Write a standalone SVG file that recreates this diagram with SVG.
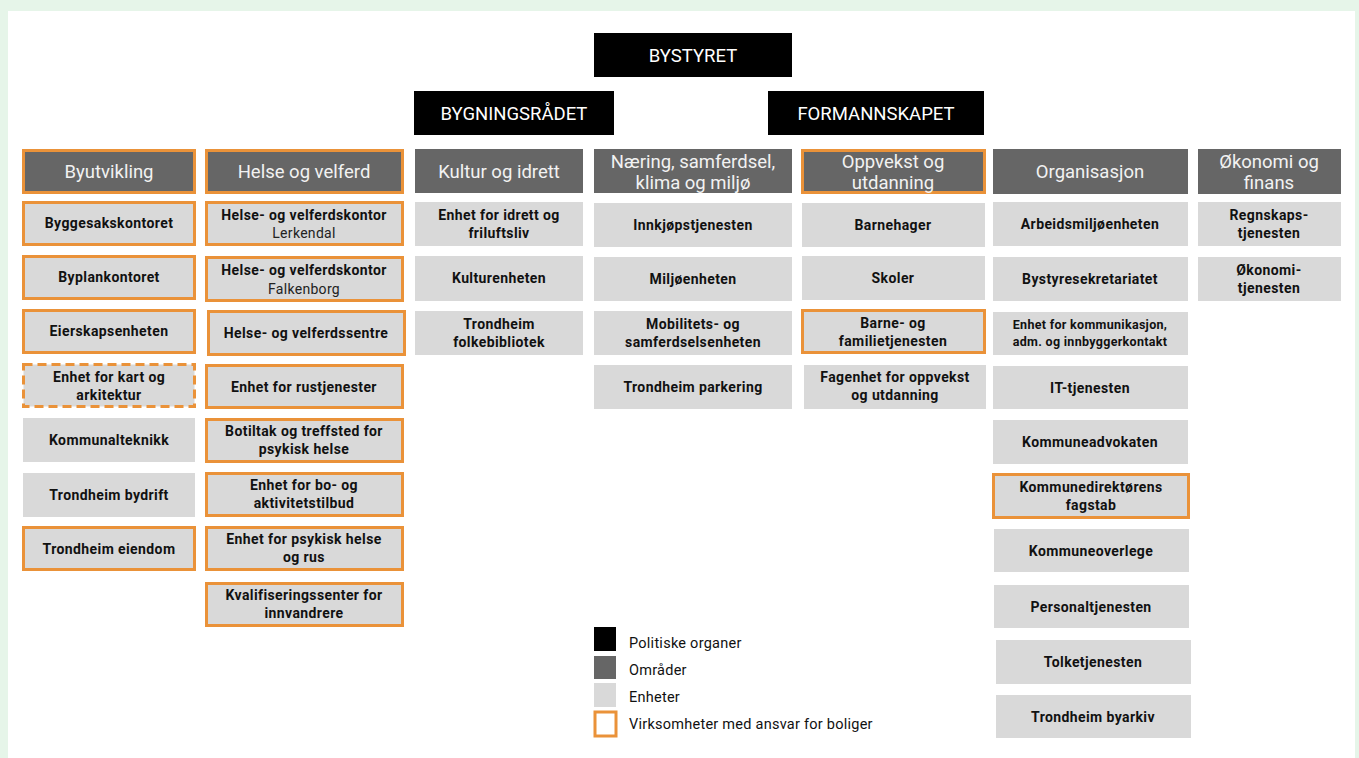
<svg xmlns="http://www.w3.org/2000/svg" width="1359" height="758" viewBox="0 0 1359 758">
<style>
.pol{fill:#000}
.omr{fill:#666666}
.enh{fill:#d9d9d9}
.bo{stroke:#ea9239;stroke-width:3}
.dash{stroke:#ea9239;stroke-width:3;stroke-dasharray:9 5}
text{font-family:Roboto,"Liberation Sans",sans-serif;text-anchor:middle}
.tp{fill:#ffffff;font-size:18.5px}
.th{fill:#f2f2f2;font-size:18.5px}
.tu{fill:#111;font-size:14px;font-weight:700;letter-spacing:0.4px}
.tr{fill:#222;font-size:14px;font-weight:400;letter-spacing:0.3px}
.ts{fill:#111;font-size:12.5px;font-weight:700;letter-spacing:0.3px}
.tl{fill:#111;font-size:14.5px;text-anchor:start;letter-spacing:0.25px}
</style>
<rect x="0" y="0" width="1359" height="758" fill="#e6f5e9"/>
<rect x="8" y="11" width="1347" height="747" fill="#ffffff"/>
<g id="connectors"></g>

<g id="bystyret"><rect class="pol" x="594" y="33" width="198" height="44"/><text class="tp" x="693" y="61.5">BYSTYRET</text></g>
<g id="bygningsradet"><rect class="pol" x="414" y="91" width="200" height="44"/><text class="tp" x="514" y="119.5">BYGNINGSRÅDET</text></g>
<g id="formannskapet"><rect class="pol" x="768" y="91" width="216" height="44"/><text class="tp" x="876" y="119.5">FORMANNSKAPET</text></g>

<g id="byutvikling"><rect class="omr bo" x="23.5" y="150.5" width="171" height="42"/><text class="th" x="109" y="178">Byutvikling</text></g>
<g id="helse"><rect class="omr bo" x="206.5" y="150.5" width="196" height="42"/><text class="th" x="304" y="178">Helse og velferd</text></g>
<g id="kultur"><rect class="omr" x="415" y="149" width="168" height="44"/><text class="th" x="499" y="178">Kultur og idrett</text></g>
<g id="naering"><rect class="omr" x="594" y="149" width="198" height="44"/><text class="th" x="693" y="168">Næring, samferdsel,</text><text class="th" x="693" y="189">klima og miljø</text></g>
<g id="oppvekst"><rect class="omr bo" x="802.5" y="150.5" width="182" height="42"/><text class="th" x="893" y="168">Oppvekst og</text><text class="th" x="893" y="189">utdanning</text></g>
<g id="organisasjon"><rect class="omr" x="993" y="149" width="195" height="45"/><text class="th" x="1090" y="178">Organisasjon</text></g>
<g id="okonomi"><rect class="omr" x="1198" y="149" width="143" height="45"/><text class="th" x="1269" y="168">Økonomi og</text><text class="th" x="1269" y="189">finans</text></g>

<g id="byggesak"><rect class="enh bo" x="23.5" y="202.5" width="171" height="42"/><text class="tu" x="109" y="228">Byggesakskontoret</text></g>
<g id="byplan"><rect class="enh bo" x="23.5" y="256.5" width="171" height="42"/><text class="tu" x="109" y="282">Byplankontoret</text></g>
<g id="eierskap"><rect class="enh bo" x="23.5" y="310.5" width="171" height="42"/><text class="tu" x="109" y="336">Eierskapsenheten</text></g>
<g id="kart"><rect class="enh dash" x="23.5" y="364.5" width="171" height="42"/><text class="tu" x="109" y="382">Enhet for kart og</text><text class="tu" x="109" y="400">arkitektur</text></g>
<g id="kommunalteknikk"><rect class="enh" x="23" y="418" width="172" height="44"/><text class="tu" x="109" y="445">Kommunalteknikk</text></g>
<g id="bydrift"><rect class="enh" x="23" y="473" width="172" height="44"/><text class="tu" x="109" y="500">Trondheim bydrift</text></g>
<g id="eiendom"><rect class="enh bo" x="23.5" y="527.5" width="171" height="42"/><text class="tu" x="109" y="554">Trondheim eiendom</text></g>

<g id="lerkendal"><rect class="enh bo" x="206.5" y="202.5" width="196" height="42"/><text class="tu" x="304" y="220">Helse- og velferdskontor</text><text class="tr" x="304" y="238">Lerkendal</text></g>
<g id="falkenborg"><rect class="enh bo" x="206.5" y="257.5" width="196" height="43"/><text class="tu" x="304" y="275">Helse- og velferdskontor</text><text class="tr" x="304" y="294">Falkenborg</text></g>
<g id="velferdssentre"><rect class="enh bo" x="208.5" y="311.5" width="196" height="43"/><text class="tu" x="306" y="338">Helse- og velferdssentre</text></g>
<g id="rus"><rect class="enh bo" x="206.5" y="365.5" width="196" height="42"/><text class="tu" x="304" y="392">Enhet for rustjenester</text></g>
<g id="botiltak"><rect class="enh bo" x="206.5" y="419.5" width="196" height="42"/><text class="tu" x="304" y="436">Botiltak og treffsted for</text><text class="tu" x="304" y="454">psykisk helse</text></g>
<g id="boaktivitet"><rect class="enh bo" x="206.5" y="473.5" width="196" height="42"/><text class="tu" x="304" y="490">Enhet for bo- og</text><text class="tu" x="304" y="508">aktivitetstilbud</text></g>
<g id="psykisk"><rect class="enh bo" x="206.5" y="527.5" width="196" height="42"/><text class="tu" x="304" y="544">Enhet for psykisk helse</text><text class="tu" x="304" y="562">og rus</text></g>
<g id="kvalifisering"><rect class="enh bo" x="206.5" y="583.5" width="196" height="42"/><text class="tu" x="304" y="600">Kvalifiseringssenter for</text><text class="tu" x="304" y="618">innvandrere</text></g>

<g id="idrett"><rect class="enh" x="415" y="202" width="168" height="44"/><text class="tu" x="499" y="220">Enhet for idrett og</text><text class="tu" x="499" y="238">friluftsliv</text></g>
<g id="kulturenheten"><rect class="enh" x="415" y="256" width="168" height="45"/><text class="tu" x="499" y="283">Kulturenheten</text></g>
<g id="folkebibliotek"><rect class="enh" x="415" y="311" width="168" height="44"/><text class="tu" x="499" y="329">Trondheim</text><text class="tu" x="499" y="347">folkebibliotek</text></g>

<g id="innkjop"><rect class="enh" x="594" y="203" width="198" height="44"/><text class="tu" x="693" y="230">Innkjøpstjenesten</text></g>
<g id="miljo"><rect class="enh" x="594" y="257" width="198" height="44"/><text class="tu" x="693" y="284">Miljøenheten</text></g>
<g id="mobilitet"><rect class="enh" x="594" y="311" width="198" height="44"/><text class="tu" x="693" y="329">Mobilitets- og</text><text class="tu" x="693" y="347">samferdselsenheten</text></g>
<g id="parkering"><rect class="enh" x="594" y="365" width="198" height="44"/><text class="tu" x="693" y="392">Trondheim parkering</text></g>

<g id="barnehager"><rect class="enh" x="802" y="203" width="183" height="44"/><text class="tu" x="893" y="230">Barnehager</text></g>
<g id="skoler"><rect class="enh" x="802" y="256" width="183" height="44"/><text class="tu" x="893" y="283">Skoler</text></g>
<g id="barnefamilie"><rect class="enh bo" x="802.5" y="310.5" width="182" height="42"/><text class="tu" x="893" y="328">Barne- og</text><text class="tu" x="893" y="346">familietjenesten</text></g>
<g id="fagenhet"><rect class="enh" x="804" y="365" width="182" height="44"/><text class="tu" x="895" y="382">Fagenhet for oppvekst</text><text class="tu" x="895" y="400">og utdanning</text></g>

<g id="arbeidsmiljo"><rect class="enh" x="993" y="202" width="195" height="44"/><text class="tu" x="1090" y="229">Arbeidsmiljøenheten</text></g>
<g id="bystyresekretariatet"><rect class="enh" x="993" y="257" width="195" height="44"/><text class="tu" x="1090" y="284">Bystyresekretariatet</text></g>
<g id="kommunikasjon"><rect class="enh" x="993" y="312" width="195" height="43"/><text class="ts" x="1090" y="329">Enhet for kommunikasjon,</text><text class="ts" x="1090" y="346">adm. og innbyggerkontakt</text></g>
<g id="it"><rect class="enh" x="993" y="366" width="195" height="43"/><text class="tu" x="1090" y="393">IT-tjenesten</text></g>
<g id="advokat"><rect class="enh" x="993" y="420" width="195" height="44"/><text class="tu" x="1090" y="447">Kommuneadvokaten</text></g>
<g id="fagstab"><rect class="enh bo" x="993.5" y="474.5" width="195" height="43"/><text class="tu" x="1091" y="492">Kommunedirektørens</text><text class="tu" x="1091" y="510">fagstab</text></g>
<g id="overlege"><rect class="enh" x="994" y="529" width="195" height="43"/><text class="tu" x="1091" y="556">Kommuneoverlege</text></g>
<g id="personal"><rect class="enh" x="994" y="585" width="195" height="43"/><text class="tu" x="1091" y="612">Personaltjenesten</text></g>
<g id="tolk"><rect class="enh" x="996" y="640" width="195" height="44"/><text class="tu" x="1093" y="667">Tolketjenesten</text></g>
<g id="byarkiv"><rect class="enh" x="996" y="695" width="195" height="43"/><text class="tu" x="1093" y="722">Trondheim byarkiv</text></g>

<g id="regnskap"><rect class="enh" x="1198" y="202" width="143" height="44"/><text class="tu" x="1269" y="220">Regnskaps-</text><text class="tu" x="1269" y="238">tjenesten</text></g>
<g id="okonomitjenesten"><rect class="enh" x="1198" y="257" width="143" height="44"/><text class="tu" x="1269" y="275">Økonomi-</text><text class="tu" x="1269" y="293">tjenesten</text></g>

<g id="legend">
<rect class="pol" x="594" y="627" width="22" height="24"/>
<rect class="omr" x="594" y="656" width="22" height="23"/>
<rect class="enh" x="594" y="683" width="22" height="24"/>
<rect x="595" y="712" width="21" height="24" fill="#fff" class="bo"/>
<text class="tl" x="629" y="648">Politiske organer</text>
<text class="tl" x="629" y="675">Områder</text>
<text class="tl" x="629" y="702">Enheter</text>
<text class="tl" x="629" y="729">Virksomheter med ansvar for boliger</text>
</g>
</svg>
